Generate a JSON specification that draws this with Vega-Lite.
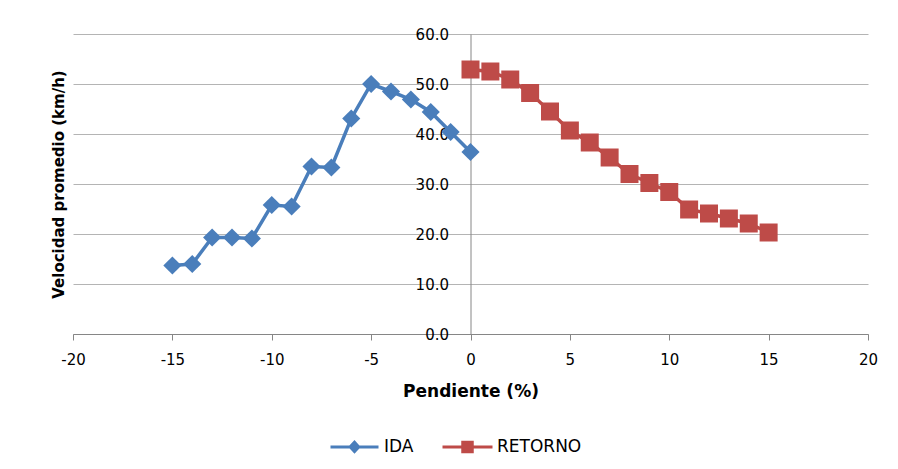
{
  "$schema": "https://vega.github.io/schema/vega-lite/v6.json",
  "autosize": "none",
  "width": 795,
  "height": 300,
  "padding": {"left": 73, "top": 34, "right": 30, "bottom": 135},
  "background": "white",
  "config": {
    "view": {"stroke": null},
    "font": "DejaVu Sans",
    "legend": {
      "title": null,
      "orient": "none",
      "direction": "horizontal",
      "legendX": 255,
      "legendY": 386,
      "padding": 0,
      "symbolSize": 2500,
      "symbolStrokeWidth": 3,
      "symbolOpacity": 1,
      "labelOffset": 3,
      "columnPadding": 22,
      "labelFont": "DejaVu Sans",
      "labelFontSize": 17,
      "labelColor": "#000000"
    }
  },
  "data": {
    "values": [
      {"serie": "IDA", "pendiente": -15, "velocidad": 13.7},
      {"serie": "IDA", "pendiente": -14, "velocidad": 14.0},
      {"serie": "IDA", "pendiente": -13, "velocidad": 19.3},
      {"serie": "IDA", "pendiente": -12, "velocidad": 19.3},
      {"serie": "IDA", "pendiente": -11, "velocidad": 19.1},
      {"serie": "IDA", "pendiente": -10, "velocidad": 25.8},
      {"serie": "IDA", "pendiente": -9, "velocidad": 25.5},
      {"serie": "IDA", "pendiente": -8, "velocidad": 33.5},
      {"serie": "IDA", "pendiente": -7, "velocidad": 33.3},
      {"serie": "IDA", "pendiente": -6, "velocidad": 43.1},
      {"serie": "IDA", "pendiente": -5, "velocidad": 50.0},
      {"serie": "IDA", "pendiente": -4, "velocidad": 48.5},
      {"serie": "IDA", "pendiente": -3, "velocidad": 46.9},
      {"serie": "IDA", "pendiente": -2, "velocidad": 44.4},
      {"serie": "IDA", "pendiente": -1, "velocidad": 40.4},
      {"serie": "IDA", "pendiente": 0, "velocidad": 36.4},
      {"serie": "RETORNO", "pendiente": 0, "velocidad": 52.9},
      {"serie": "RETORNO", "pendiente": 1, "velocidad": 52.5},
      {"serie": "RETORNO", "pendiente": 2, "velocidad": 50.9},
      {"serie": "RETORNO", "pendiente": 3, "velocidad": 48.2},
      {"serie": "RETORNO", "pendiente": 4, "velocidad": 44.5},
      {"serie": "RETORNO", "pendiente": 5, "velocidad": 40.7},
      {"serie": "RETORNO", "pendiente": 6, "velocidad": 38.3},
      {"serie": "RETORNO", "pendiente": 7, "velocidad": 35.3},
      {"serie": "RETORNO", "pendiente": 8, "velocidad": 32.0},
      {"serie": "RETORNO", "pendiente": 9, "velocidad": 30.2},
      {"serie": "RETORNO", "pendiente": 10, "velocidad": 28.4},
      {"serie": "RETORNO", "pendiente": 11, "velocidad": 24.9},
      {"serie": "RETORNO", "pendiente": 12, "velocidad": 24.1},
      {"serie": "RETORNO", "pendiente": 13, "velocidad": 23.1},
      {"serie": "RETORNO", "pendiente": 14, "velocidad": 22.1},
      {"serie": "RETORNO", "pendiente": 15, "velocidad": 20.3}
    ]
  },
  "encoding": {
    "x": {
      "field": "pendiente",
      "type": "quantitative",
      "scale": {"domain": [-20, 20], "nice": false, "zero": false},
      "axis": {
        "title": "Pendiente (%)",
        "values": [-20, -15, -10, -5, 0, 5, 10, 15, 20],
        "labelExpr": "toString(datum.value)",
        "grid": false,
        "domainColor": "#868686",
        "tickColor": "#868686",
        "tickSize": 6,
        "labelPadding": 12,
        "labelFont": "DejaVu Sans",
        "labelFontSize": 15,
        "labelColor": "#000000",
        "labelFlush": false,
        "titleFont": "DejaVu Sans",
        "titleFontSize": 17,
        "titleFontWeight": "bold",
        "titleColor": "#000000",
        "titlePadding": 16
      }
    },
    "y": {
      "field": "velocidad",
      "type": "quantitative",
      "scale": {"domain": [0, 60], "nice": false},
      "axis": {
        "title": "Velocidad promedio (km/h)",
        "values": [0, 10, 20, 30, 40, 50, 60],
        "format": ".1f",
        "offset": -397.5,
        "ticks": false,
        "tickSize": 0,
        "labelPadding": 22,
        "labelFont": "DejaVu Sans",
        "labelFontSize": 15,
        "labelColor": "#000000",
        "labelFlush": false,
        "domainColor": "#868686",
        "gridColor": "#b4b4b4",
        "titleFont": "DejaVu Sans",
        "titleFontSize": 15,
        "titleFontWeight": "bold",
        "titleColor": "#000000",
        "titleX": -412.5,
        "titleY": 150,
        "titleAlign": "center",
        "titleBaseline": "middle",
        "titleAngle": -90
      }
    },
    "color": {
      "field": "serie",
      "type": "nominal",
      "title": null,
      "scale": {"domain": ["IDA", "RETORNO"], "range": ["#4A7EBB", "#BE4B48"]}
    }
  },
  "layer": [
    {
      "mark": {"type": "line", "strokeWidth": 3.5},
      "encoding": {"detail": {"field": "serie"}}
    },
    {
      "transform": [{"filter": "datum.serie == 'IDA'"}],
      "mark": {"type": "point", "shape": "diamond", "filled": true, "opacity": 1, "size": 330}
    },
    {
      "transform": [{"filter": "datum.serie == 'RETORNO'"}],
      "mark": {"type": "point", "shape": "square", "filled": true, "opacity": 1, "size": 324}
    },
    {
      "mark": {"type": "point", "filled": true, "opacity": 0, "size": 2500},
      "encoding": {
        "shape": {
          "field": "serie",
          "type": "nominal",
          "title": null,
          "scale": {
            "domain": ["IDA", "RETORNO"],
            "range": [
              "M-0.96,0H0.96M-0.17,0L0,-0.19L0.17,0L0,0.19Z",
              "M-1,0H1M-0.19,-0.19H0.19V0.19H-0.19Z"
            ]
          },
          "legend": {
            "encode": {
              "symbols": {
                "update": {
                  "fill": {"scale": "color", "field": "value"},
                  "stroke": {"scale": "color", "field": "value"},
                  "opacity": {"value": 1},
                  "size": {"value": 2500}
                }
              }
            }
          }
        }
      }
    }
  ]
}
